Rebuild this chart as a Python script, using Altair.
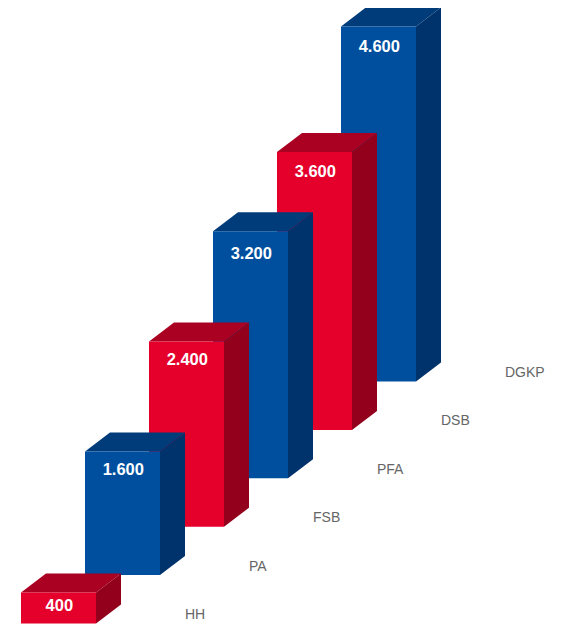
import altair as alt
import pandas as pd

categories = ["HH", "PA", "FSB", "PFA", "DSB", "DGKP"]
values = [400, 1600, 2400, 3200, 3600, 4600]
front_colors = ["#e4002b", "#004f9f", "#e4002b", "#004f9f", "#e4002b", "#004f9f"]
side_colors = ["#93001c", "#00336b", "#93001c", "#00336b", "#93001c", "#00336b"]
top_colors = ["#aa0022", "#003b7a", "#aa0022", "#003b7a", "#aa0022", "#003b7a"]

W, H = 549, 616
PX_PER_STEP = 64.0
PX_PER_UNIT = 0.0772
BAR_W = 75 / PX_PER_STEP
DEPTH_X = 25 / PX_PER_STEP
DEPTH_Y = 19 / PX_PER_UNIT
RISE = 48.4 / PX_PER_UNIT
LABEL_DX = 164 / PX_PER_STEP
LABEL_DY = 8.5 / PX_PER_UNIT
VALUE_PX_BELOW_TOP = [13.8, 18.3, 18.7, 22.5, 19.7, 20.7]
VALUE_DX = 0.8 / PX_PER_STEP

x_dom0 = -13 / PX_PER_STEP
y_dom0 = -0.5 / PX_PER_UNIT
xs = alt.Scale(domain=[x_dom0, x_dom0 + W / PX_PER_STEP], zero=False, nice=False)
ys = alt.Scale(domain=[y_dom0, y_dom0 + H / PX_PER_UNIT], zero=False, nice=False)
X = lambda f: alt.X(f, type="quantitative", scale=xs, axis=None)
Y = lambda f: alt.Y(f, type="quantitative", scale=ys, axis=None)

layers = []
for i in reversed(range(len(values))):
    base = i * RISE
    top = base + values[i]
    left, right = float(i), i + BAR_W

    top_df = pd.DataFrame({
        "x": [left, left + DEPTH_X, right, right + DEPTH_X],
        "y": [top, top, top, top + DEPTH_Y],
        "y2": [top, top + DEPTH_Y, top + DEPTH_Y, top + DEPTH_Y],
    })
    side_df = pd.DataFrame({
        "x": [right, right + DEPTH_X],
        "y": [base, base + DEPTH_Y],
        "y2": [top, top + DEPTH_Y],
    })
    front_df = pd.DataFrame({"x": [left], "x2": [right], "y": [base], "y2": [top]})
    value_df = pd.DataFrame({
        "x": [left + BAR_W / 2 + VALUE_DX],
        "y": [top - VALUE_PX_BELOW_TOP[i] / PX_PER_UNIT],
        "t": [f"{values[i]:,}".replace(",", ".")],
    })
    cat_df = pd.DataFrame({
        "x": [left + LABEL_DX],
        "y": [base + LABEL_DY],
        "t": [categories[i]],
    })

    layers.append(alt.Chart(top_df).mark_area(color=top_colors[i], interpolate="linear").encode(
        x=X("x"), y=Y("y"), y2="y2"))
    layers.append(alt.Chart(side_df).mark_area(color=side_colors[i], interpolate="linear").encode(
        x=X("x"), y=Y("y"), y2="y2"))
    layers.append(alt.Chart(front_df).mark_rect(color=front_colors[i]).encode(
        x=X("x"), x2="x2", y=Y("y"), y2="y2"))
    layers.append(alt.Chart(value_df).mark_text(
        color="white", font="Liberation Sans", fontWeight="bold", fontSize=16.5,
        align="center", baseline="middle").encode(x=X("x"), y=Y("y"), text="t:N"))
    layers.append(alt.Chart(cat_df).mark_text(
        color="#666666", font="Liberation Sans", fontSize=14,
        align="left", baseline="middle").encode(x=X("x"), y=Y("y"), text="t:N"))

chart = alt.layer(*layers).properties(
    width=W, height=H, padding=0,
    autosize=alt.AutoSizeParams(type="none"),
).configure_view(stroke=None)

chart.save("out.html", embed_options={"renderer": "svg", "actions": False})
